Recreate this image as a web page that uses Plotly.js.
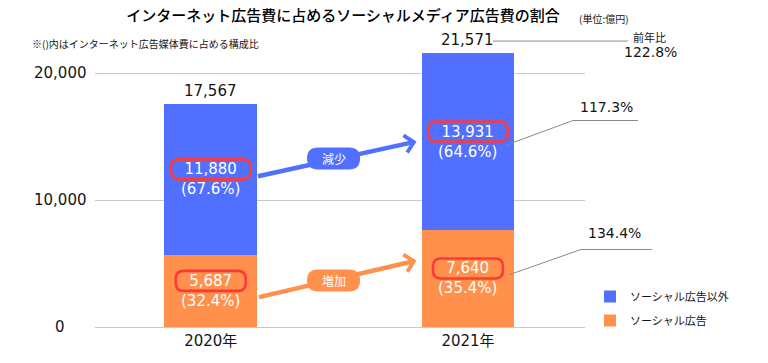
<!DOCTYPE html>
<html><head><meta charset="utf-8">
<script src="https://cdn.plot.ly/plotly-3.0.1.min.js"></script>
<style>html,body{margin:0;padding:0;background:#fff}#chart{width:768px;height:363px}</style>
</head><body><div id="chart"></div>
<script>
// ---- data ----
const years = ['2020年', '2021年'];
const socialAds = [5687, 7640];
const otherAds = [11880, 13931];
const totals = [17567, 21571];
const socialShare = ['(32.4%)', '(35.4%)'];
const otherShare = ['(67.6%)', '(64.6%)'];
const yoyHeader = '前年比';
const yoyTotal = '122.8%';
const yoyOther = '117.3%';
const yoySocial = '134.4%';
const yTickVals = [0, 10000, 20000];
const yTickText = ['0', '10,000', '20,000'];
const seriesNames = ['ソーシャル広告', 'ソーシャル広告以外'];
const changeOther = '減少';
const changeSocial = '増加';
const titleText = 'インターネット広告費に占めるソーシャルメディア広告費の割合';
const unitText = '(単位:億円)';
const noteText = '※()内はインターネット広告媒体費に占める構成比';

// ---- style ----
const BLUE = '#5170FF', ORANGE = '#FF914D', RED = '#FF3838', GRID = '#C8C8C8', LEAD = '#8A8A8A', INK = '#151515';
const JP = 'Noto Sans CJK JP';
const NUM = 'DejaVu Sans, Noto Sans CJK JP';
const barW = 0.36;
const xr = [-0.45, 1.455];
const yr = [0, 22600];
const fmt = n => n.toLocaleString('en-US');
const px1 = (1 - xr[0]) / (xr[1] - xr[0]); // paper x of 2nd category

function rr(cx, cy, w, h, r) {
  const x0 = cx - w / 2, x1 = cx + w / 2, y0 = cy - h / 2, y1 = cy + h / 2;
  return `M${x0 + r},${y0} L${x1 - r},${y0} Q${x1},${y0} ${x1},${y0 + r} L${x1},${y1 - r} Q${x1},${y1} ${x1 - r},${y1} L${x0 + r},${y1} Q${x0},${y1} ${x0},${y1 - r} L${x0},${y0 + r} Q${x0},${y0} ${x0 + r},${y0} Z`;
}
function numW(s) { let w = 0; for (const c of s) w += (c === ',' ? 4.8 : 9.55); return w; }

const socialMid = socialAds.map(v => v / 2);
const otherMid = otherAds.map((v, i) => socialAds[i] + v / 2);

const traces = [
  { type: 'bar', x: years, y: socialAds, name: seriesNames[0], marker: { color: ORANGE, line: { width: 0 } }, width: barW, legendgroup: 'a', legendrank: 2, hoverinfo: 'skip' },
  { type: 'bar', x: years, y: otherAds, name: seriesNames[1], marker: { color: BLUE, line: { width: 0 } }, width: barW, legendgroup: 'b', legendrank: 1, hoverinfo: 'skip' }
];

const annotations = [];
const shapes = [];

// y tick labels (centered)
yTickVals.forEach((v, i) => annotations.push({ xref: 'paper', yref: 'y', x: -0.0714, y: v, text: yTickText[i], showarrow: false, xanchor: 'center', yanchor: 'middle', font: { family: NUM, size: 15, color: INK } }));

// totals
years.forEach((yr_, i) => annotations.push({ x: i, y: totals[i], text: fmt(totals[i]), showarrow: false, yshift: 13, yanchor: 'middle', font: { family: NUM, size: 15, color: INK } }));

// inside labels + red rounded frames
years.forEach((yv, i) => {
  [[otherAds, otherMid, otherShare], [socialAds, socialMid, socialShare]].forEach(([vals, mids, shares]) => {
    const s = fmt(vals[i]);
    annotations.push({ x: i, y: mids[i], text: s + '<br>' + shares[i], showarrow: false, yanchor: 'middle', font: { family: NUM, size: 15, color: '#ffffff' } });
    shapes.push({ type: 'path', xref: 'x', yref: 'y', xsizemode: 'pixel', ysizemode: 'pixel', xanchor: i, yanchor: mids[i], path: rr(0, 10, numW(s) + 27, 20, 8), line: { color: RED, width: 2.6 }, fillcolor: 'rgba(0,0,0,0)', layer: 'above' });
  });
});

// arrows between years
const tipX = 1 - barW / 2 - 0.02;
annotations.push({ x: tipX, y: otherMid[1], axref: 'pixel', ayref: 'pixel', ax: -160, ay: 35, text: '', showarrow: true, arrowhead: 4, arrowsize: 0.75, arrowwidth: 4.5, arrowcolor: BLUE, standoff: 0 });
annotations.push({ x: tipX, y: socialMid[1], yshift: 18, axref: 'pixel', ayref: 'pixel', ax: -159, ay: 37, text: '', showarrow: true, arrowhead: 4, arrowsize: 0.75, arrowwidth: 4.5, arrowcolor: ORANGE, standoff: 0 });
// pills
shapes.push({ type: 'path', xref: 'x', yref: 'y', xsizemode: 'pixel', ysizemode: 'pixel', xanchor: tipX, yanchor: otherMid[1], path: rr(-83, -17, 53, 22, 11), line: { width: 0 }, fillcolor: BLUE, layer: 'above' });
shapes.push({ type: 'path', xref: 'x', yref: 'y', xsizemode: 'pixel', ysizemode: 'pixel', xanchor: tipX, yanchor: socialMid[1], path: rr(-83, -2, 53, 22, 11), line: { width: 0 }, fillcolor: ORANGE, layer: 'above' });
annotations.push({ x: tipX, y: otherMid[1], xshift: -83, yshift: -17, text: changeOther, showarrow: false, font: { family: JP, size: 12, color: '#ffffff' } });
annotations.push({ x: tipX, y: socialMid[1], xshift: -83, yshift: -2, text: changeSocial, showarrow: false, font: { family: JP, size: 12, color: '#ffffff' } });

// leader lines (right side)
const lead = (yv, path) => shapes.push({ type: 'path', xref: 'paper', yref: 'y', xsizemode: 'pixel', ysizemode: 'pixel', xanchor: px1, yanchor: yv, path, line: { color: LEAD, width: 1 }, layer: 'above' });
lead(totals[1], 'M25,12 L160,12');
lead(otherMid[1], 'M37,-4 L105,21 L170,21');
lead(socialMid[1], 'M42,4 L113,29 L184,29');
annotations.push({ x: 1, y: totals[1], xshift: 182, yshift: 16, text: yoyHeader, showarrow: false, font: { family: JP, size: 11, color: INK } });
annotations.push({ x: 1, y: totals[1], xshift: 183, yshift: 1, text: yoyTotal, showarrow: false, font: { family: NUM, size: 14, color: INK } });
annotations.push({ x: 1, y: otherMid[1], xshift: 139, yshift: 35, text: yoyOther, showarrow: false, font: { family: NUM, size: 14, color: INK } });
annotations.push({ x: 1, y: socialMid[1], xshift: 147, yshift: 45, text: yoySocial, showarrow: false, font: { family: NUM, size: 14, color: INK } });

// unit + note
annotations.push({ xref: 'paper', yref: 'paper', x: (604 - 95) / 490, y: (327 - 19) / 287, text: unitText, showarrow: false, xanchor: 'center', yanchor: 'middle', font: { family: JP, size: 10, color: INK } });
annotations.push({ xref: 'paper', yref: 'paper', x: (30 - 95) / 490, y: (327 - 43) / 287, text: noteText, showarrow: false, xanchor: 'left', yanchor: 'middle', font: { family: JP, size: 10, color: INK } });

const layout = {
  width: 768, height: 363,
  margin: { l: 95, r: 183, t: 40, b: 36 },
  paper_bgcolor: '#ffffff', plot_bgcolor: '#ffffff',
  font: { family: JP, color: INK },
  title: { text: titleText, xref: 'container', yref: 'container', x: 343 / 768, xanchor: 'center', y: 1 - 16 / 363, yanchor: 'middle', font: { family: JP, size: 15, weight: 500, color: '#000000' } },
  barmode: 'stack',
  xaxis: { type: 'category', range: xr, showgrid: false, zeroline: false, showline: false, ticks: '', ticklabelstandoff: 3, tickfont: { family: NUM, size: 15, color: INK }, fixedrange: true },
  yaxis: { range: yr, tickvals: yTickVals, showticklabels: false, showgrid: true, gridcolor: GRID, gridwidth: 1, zeroline: true, zerolinecolor: GRID, zerolinewidth: 1, ticks: '', fixedrange: true },
  showlegend: true,
  legend: { x: (590 - 95) / 490, y: (327 - 282) / 287, xanchor: 'left', yanchor: 'top', traceorder: 'grouped', tracegroupgap: 5, bgcolor: 'rgba(0,0,0,0)', font: { family: JP, size: 11, color: INK } },
  annotations, shapes
};

Plotly.newPlot('chart', traces, layout, { staticPlot: true, displayModeBar: false });
</script>
</body></html>
